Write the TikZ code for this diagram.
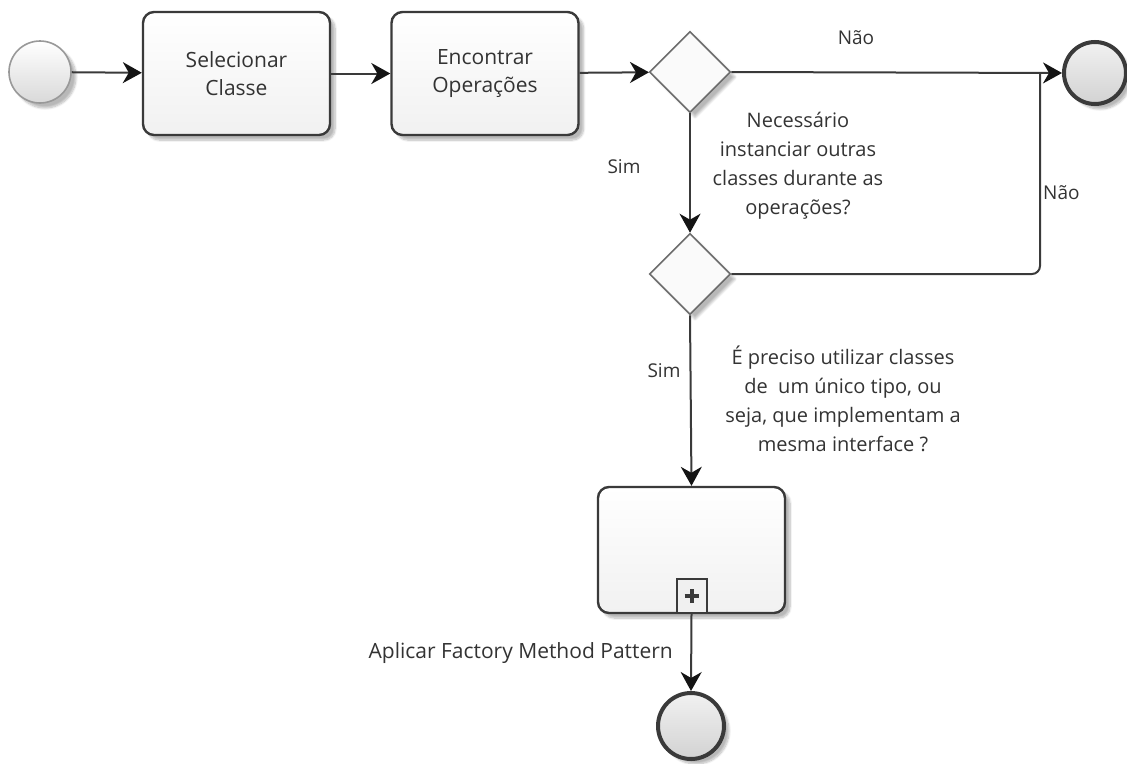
\documentclass[tikz,border=0pt]{standalone}
\usepackage{fontspec}
\setmainfont{Open Sans}
\usetikzlibrary{shapes.geometric,arrows.meta,shadows.blur,positioning}
\definecolor{ink}{HTML}{3A3A3A}
\definecolor{tip}{HTML}{141414}
\definecolor{txt}{HTML}{333333}
\definecolor{boxfill}{HTML}{F1F1F1}
\definecolor{gatefill}{HTML}{FAFAFA}
\tikzset{
  softshadow/.style={blur shadow={shadow xshift=5pt, shadow yshift=-5pt, shadow blur steps=8, shadow opacity=28}},
  task/.style={draw=ink, line width=2.4pt, rounded corners=11pt, top color=white, bottom color=boxfill,
    minimum width=187pt, minimum height=123pt, align=center, font=\fontsize{21}{28}\selectfont, text=txt, softshadow},
  gate/.style={diamond, draw=gray!85!black, line width=1.6pt, fill=gatefill, minimum width=81pt, minimum height=81pt,
    inner sep=0pt, softshadow},
  startev/.style={circle, draw=gray!80, line width=1.6pt, top color=white, bottom color=boxfill!90!black, minimum size=62pt, inner sep=0pt, softshadow},
  endev/.style={circle, draw=ink, line width=4pt, top color=boxfill, bottom color=gray!35, minimum size=62pt, inner sep=0pt, softshadow},
  flow/.style={draw=ink, line width=2pt, -{Stealth[length=19pt, width=21pt, inset=6pt, color=tip]}},
  plain/.style={draw=ink, line width=2pt},
  lbl/.style={text=txt, font=\fontsize{19}{24}\selectfont, inner sep=0pt},
  quest/.style={text=txt, font=\fontsize{20}{29}\selectfont, align=center, inner sep=0pt},
  marker/.style={draw=ink, line width=2pt, fill=gray!12, minimum width=30pt, minimum height=34pt, inner sep=0pt}
}
\begin{document}
\begin{tikzpicture}[x=1pt, y=-1pt]
\useasboundingbox (0,0) rectangle (1127,763);

% events, tasks and gateways
\node[startev] (start) at (40,72) {};
\node[task] (sel) at (236.5,73.5) {Selecionar\\Classe};
\node[task] (enc) at (485,73.5) {Encontrar\\Operações};
\node[gate] (g1) at (690,72) {};
\node[endev] (endtop) at (1095,73) {};
\node[gate] (g2) at (690,274) {};
\node[task, minimum height=126pt] (sub) at (691.5,550) {};
\node[marker, anchor=south] (mk) at (sub.south) {};
\draw[ink, line width=4pt] ([yshift=-7pt]mk.center) -- ([yshift=7pt]mk.center)
  ([xshift=-7pt]mk.center) -- ([xshift=7pt]mk.center);
\node[endev, minimum size=66pt] (endbot) at (691,726) {};

% sequence flows
\draw[flow] (start) -- (sel);
\draw[flow] (sel) -- (enc);
\draw[flow] (enc) -- (g1);
\draw[flow] (g1.east) -- (endtop.west);
\draw[flow] (g1.south) -- (g2.north);
\coordinate (join) at (1040,72);
\draw[plain, rounded corners=8pt] (g2.east) -| (join);
\draw[flow] (g2.south) -- (sub.north);
\draw[flow] (mk.south) -- (endbot.north);

% labels
\node[lbl] (nao1) at (856,38) {Não};
\node[lbl] (sim1) at (624,167) {Sim};
\node[lbl, anchor=west] (nao2) at (1043,193) {Não};
\node[lbl] (sim2) at (664,371) {Sim};
\node[quest] (q1) at (798,166) {Necessário\\instanciar outras\\classes durante as\\operações?};
\node[quest] (q2) at (843,399) {É preciso utilizar classes\\de \ um único tipo, ou\\seja, que implementam a\\mesma interface ?};
\node[lbl, font=\fontsize{21}{24}\selectfont, anchor=east] (apl) at (673,653) {Aplicar Factory Method Pattern};
\end{tikzpicture}
\end{document}
